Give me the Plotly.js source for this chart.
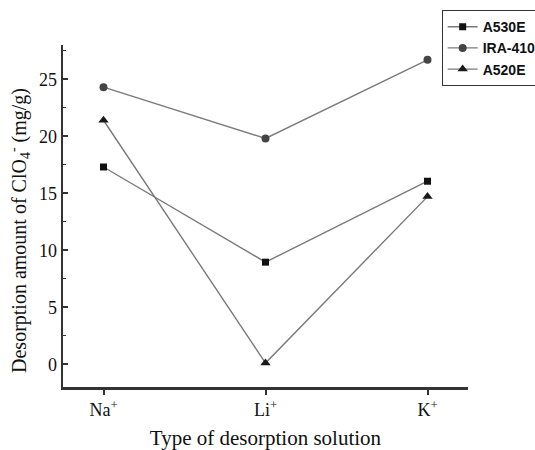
<!DOCTYPE html>
<html>
<head>
<meta charset="utf-8">
<script src="https://cdn.plot.ly/plotly-3.0.1.min.js"></script>
<style>html,body{margin:0;padding:0;background:#fff;}#chart{width:535px;height:450px;}</style>
</head>
<body>
<div id="chart"></div>
<script>
const categories = ["Na<sup>+</sup>", "Li<sup>+</sup>", "K<sup>+</sup>"];
const seriesNames = ["A530E", "IRA-410", "A520E"];
const a530e = [17.3, 8.95, 16.05];
const ira410 = [24.3, 19.8, 26.7];
const a520e = [21.4, 0.1, 14.7];
const yTickVals = [0, 5, 10, 15, 20, 25];
const xTitle = "Type of desorption solution";
const yTitle = "Desorption amount of ClO<sub>4</sub><sup>-</sup> (mg/g)";

const serif = "Liberation Serif, Times New Roman, serif";
const lineColor = "#7a7a7a";
const traces = [
  {name: seriesNames[0], y: a530e, marker: {symbol: "square", size: 7, color: "#111"}},
  {name: seriesNames[1], y: ira410, marker: {symbol: "circle", size: 8, color: "#444"}},
  {name: seriesNames[2], y: a520e, marker: {symbol: "triangle-up", size: 9, color: "#1a1a1a"}}
].map(t => Object.assign({
  x: categories.map((_, i) => i),
  type: "scatter",
  mode: "lines+markers",
  line: {color: lineColor, width: 1.4}
}, t));

const layout = {
  width: 535, height: 450,
  margin: {l: 63, r: 67, t: 45, b: 63, autoexpand: false},
  paper_bgcolor: "#fff", plot_bgcolor: "#fff",
  showlegend: true,
  legend: {
    x: 0.935, y: 1.102, xanchor: "left", yanchor: "top",
    bordercolor: "#333", borderwidth: 1, bgcolor: "#fff",
    font: {family: "Liberation Sans, Arial, sans-serif", size: 14, color: "#111", weight: "bold"},
    itemwidth: 30, tracegroupgap: 0
  },
  xaxis: {
    range: [-0.25, 2.25],
    tickvals: [0, 1, 2], ticktext: categories,
    showline: true, linecolor: "#333", linewidth: 2.5,
    ticks: "outside", ticklen: 5, tickwidth: 2, tickcolor: "#333",
    showgrid: false, zeroline: false,
    tickfont: {family: serif, size: 18, color: "#111"},
    title: {text: xTitle, font: {family: serif, size: 21, color: "#111"}, standoff: 19}
  },
  yaxis: {
    range: [-2, 28],
    tickvals: yTickVals,
    showline: true, linecolor: "#333", linewidth: 2.5,
    ticks: "inside", ticklen: 5, tickwidth: 2, tickcolor: "#333",
    minor: {dtick: 2.5, ticks: "inside", ticklen: 3, tickwidth: 1.5, tickcolor: "#333", showgrid: false},
    showgrid: false, zeroline: false,
    tickfont: {family: serif, size: 18, color: "#111"}
  },
  annotations: [{
    text: yTitle, textangle: -90, showarrow: false,
    xref: "paper", yref: "paper", x: -0.108, y: 0.457,
    xanchor: "center", yanchor: "middle",
    font: {family: serif, size: 20, color: "#111"}
  }]
};

Plotly.newPlot("chart", traces, layout, {displayModeBar: false, staticPlot: true});
</script>
</body>
</html>
